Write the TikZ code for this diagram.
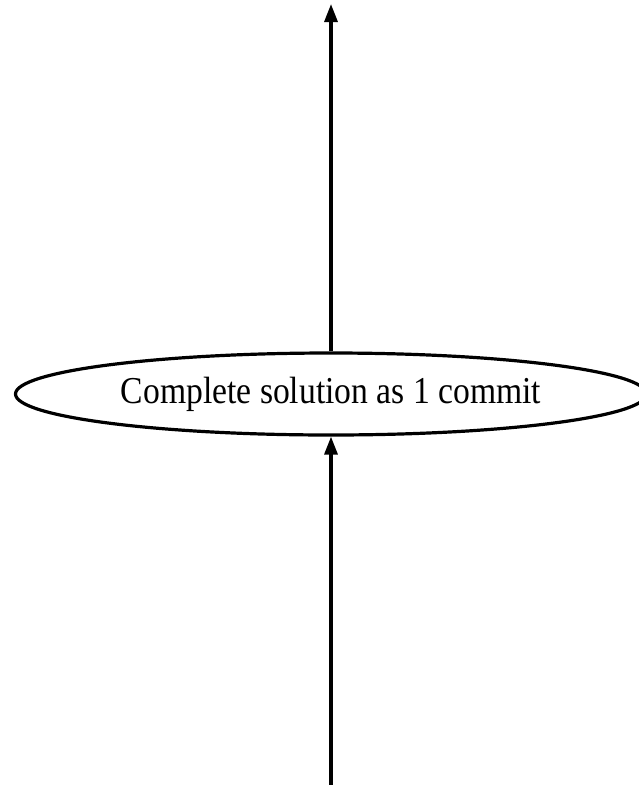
\documentclass[tikz,border=0pt]{standalone}
\usepackage{fontspec}
\setmainfont{Liberation Serif}
\usetikzlibrary{shapes.geometric,arrows.meta}
\begin{document}
\begin{tikzpicture}[x=1pt,y=-1pt,
  state/.style={ellipse,draw,line width=3.2pt,minimum width=631pt,minimum height=82pt,inner sep=0pt,
    font=\fontsize{38}{40}\selectfont},
  edge/.style={line width=3.2pt,-{Triangle[length=18pt,width=13pt]}}]
\useasboundingbox (0,0) rectangle (639,785);
\node[state] (c) at (331,394) {\scalebox{0.885}[1]{Complete solution as 1 commit}};
\coordinate (top) at (331,4);
\coordinate (bot) at (331,790);
\draw[edge] (c) -- (top);
\draw[edge] (bot) -- (c);
\end{tikzpicture}
\end{document}
